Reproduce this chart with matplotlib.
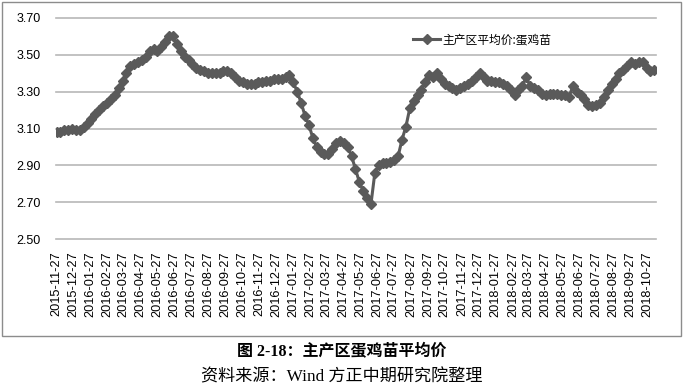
import numpy as np
import pandas as pd
import matplotlib
matplotlib.use('Agg')
import matplotlib.pyplot as plt
import matplotlib.dates as mdates
from matplotlib.patches import Rectangle

plt.rcParams['font.family'] = ['Liberation Sans', 'Noto Sans CJK SC', 'DejaVu Sans']

# weekly price, 2015-11-27 onwards
price = [3.08, 3.08, 3.09, 3.09, 3.10, 3.09, 3.09, 3.11, 3.13, 3.15,
         3.18, 3.20, 3.22, 3.24, 3.26, 3.28, 3.32, 3.36, 3.40, 3.44,
         3.45, 3.46, 3.47, 3.49, 3.52, 3.53, 3.52, 3.54, 3.57, 3.60,
         3.60, 3.56, 3.52, 3.49, 3.47, 3.45, 3.43, 3.42, 3.41, 3.40,
         3.40, 3.40, 3.40, 3.41, 3.41, 3.40, 3.38, 3.36, 3.35, 3.34,
         3.34, 3.34, 3.35, 3.35, 3.36, 3.36, 3.37, 3.37, 3.37, 3.38,
         3.39, 3.35, 3.30, 3.24, 3.17, 3.12, 3.05, 3.00, 2.97, 2.96,
         2.96, 2.99, 3.02, 3.03, 3.02, 3.00, 2.95, 2.88, 2.81, 2.76,
         2.72, 2.69, 2.86, 2.90, 2.91, 2.91, 2.92, 2.93, 2.95, 3.04,
         3.11, 3.21, 3.25, 3.28, 3.31, 3.35, 3.39, 3.38, 3.40, 3.37,
         3.34, 3.33, 3.32, 3.31, 3.32, 3.33, 3.34, 3.36, 3.38, 3.40,
         3.38, 3.36, 3.36, 3.35, 3.35, 3.34, 3.33, 3.31, 3.28, 3.31,
         3.33, 3.38, 3.33, 3.32, 3.31, 3.29, 3.28, 3.29, 3.29, 3.29,
         3.28, 3.28, 3.27, 3.33, 3.30, 3.28, 3.26, 3.23, 3.22, 3.23,
         3.24, 3.27, 3.31, 3.34, 3.37, 3.40, 3.42, 3.44, 3.46, 3.45,
         3.46, 3.46, 3.43, 3.41, 3.42]
start = '2015-11-27'
dates = pd.date_range(start, periods=len(price), freq='7D')
tick_dates = pd.date_range(start, periods=36, freq=pd.DateOffset(months=1))
yticks = [2.50, 2.70, 2.90, 3.10, 3.30, 3.50, 3.70]
series_name = '主产区平均价:蛋鸡苗'

fig = plt.figure(figsize=(6.87, 3.90), dpi=100)
ax = fig.add_axes([56/687, 1-239/390, 600/687, 221/390])

x = mdates.date2num(dates)
ax.plot(x, price, color='#5a5a5a', lw=2.2, marker='D', markersize=5,
        markeredgecolor='#5a5a5a', label=series_name, zorder=3)

x0 = mdates.date2num(pd.Timestamp(start)) - 1
ax.set_xlim(x0, x0 + 1082)
ax.set_ylim(2.5, 3.7)
ax.set_yticks(yticks)
ax.set_yticklabels(['%.2f' % v for v in yticks], fontsize=9)
ax.set_xticks(mdates.date2num(tick_dates))
ax.set_xticklabels([d.strftime('%Y-%m-%d') for d in tick_dates], rotation=90,
                   fontsize=9.2, va='top', ha='center')
ax.tick_params(length=0)
ax.tick_params(axis='y', pad=11)
ax.tick_params(axis='x', pad=9)
ax.grid(axis='y', color='#b8b8b8', lw=1.2)
for gl in ax.get_ygridlines():
    gl.set_clip_on(False)
for s in ax.spines.values():
    s.set_visible(False)

fig.legend(loc='center left', bbox_to_anchor=(413/687, 1-40/390), frameon=False,
           borderaxespad=0, borderpad=0, handlelength=2.3, handletextpad=0.2,
           prop={'family': ['Noto Sans CJK SC'], 'size': 8.5})

fig.patches.append(Rectangle((2/687, 1-336/390), 679/687, 334/390, transform=fig.transFigure,
                             fill=False, edgecolor='#8c8c8c', lw=1))

fig.text(342/687, 1-352/390, '图 2-18：主产区蛋鸡苗平均价', ha='center', va='center',
         fontsize=11.5, fontweight='bold', family=['Liberation Serif', 'Noto Sans CJK SC'])
fig.text(342/687, 1-377/390, '资料来源：Wind 方正中期研究院整理', ha='center', va='center',
         fontsize=12.3, family=['Liberation Serif', 'Noto Sans CJK SC'])

fig.savefig('out.png', dpi=100)
